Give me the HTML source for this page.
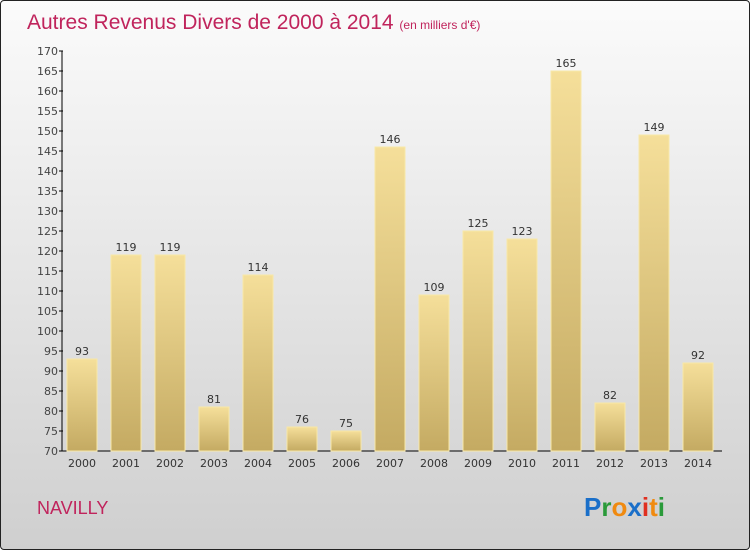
<!DOCTYPE html>
<html><head><meta charset="utf-8"><style>
body{margin:0}
#c{position:relative;width:748px;height:548px;border:1px solid #222;border-radius:4px;background:linear-gradient(#fbfbfb,#cfcfcf);overflow:hidden;font-family:"DejaVu Sans","Liberation Sans",sans-serif}
</style></head><body>
<div id="c">
<svg width="748" height="548">
<defs><linearGradient id="bg" x1="0" y1="0" x2="0" y2="1"><stop offset="0" stop-color="#f5df9a"/><stop offset="1" stop-color="#c4aa62"/></linearGradient></defs>
<text x="26" y="28" font-size="21" fill="#c0245c" font-family="Liberation Sans">Autres Revenus Divers de 2000 à 2014 <tspan font-size="12">(en milliers d'€)</tspan></text>
<g id="axes"></g><g id="bars"></g>
<text x="36" y="513" font-size="18" fill="#c0245c" font-family="Liberation Sans">NAVILLY</text>
<text x="583" y="515" font-size="26" font-weight="bold" font-family="Liberation Sans"><tspan fill="#1a6fc9">P</tspan><tspan fill="#2a9a3a">r</tspan><tspan fill="#f08a10">o</tspan><tspan fill="#1a6fc9">x</tspan><tspan fill="#e03020">i</tspan><tspan fill="#f08a10">t</tspan><tspan fill="#2a9a3a">i</tspan></text>
</svg></div>
<script>
const years=["2000","2001","2002","2003","2004","2005","2006","2007","2008","2009","2010","2011","2012","2013","2014"];
const values=[93,119,119,81,114,76,75,146,109,125,123,165,82,149,92];
const yTicks=[70,75,80,85,90,95,100,105,110,115,120,125,130,135,140,145,150,155,160,165,170];
const NS="http://www.w3.org/2000/svg";
const y=v=>450-(v-70)*4, x=i=>81+i*44;
const ax=document.getElementById('axes'),bg=document.getElementById('bars');
function mk(t,a,p){const e=document.createElementNS(NS,t);for(const k in a)e.setAttribute(k,a[k]);p.appendChild(e);return e;}
let l=mk('line',{x1:61,y1:50,x2:61,y2:450,stroke:'#000'},ax);


l=mk('line',{x1:61,y1:450,x2:721,y2:450,stroke:'#000'},ax);


yTicks.forEach(v=>{mk('line',{x1:58,x2:62,y1:y(v),y2:y(v),stroke:'#000'},ax);
const t=mk('text',{x:57,y:y(v)+4,'text-anchor':'end','font-size':11,fill:'#444'},ax);t.textContent=v;

});
values.forEach((v,i)=>{const r=mk('rect',{x:x(i)-15,y:y(v),width:30,height:450-y(v),fill:'url(#bg)',stroke:'#f8e8a8','stroke-width':1},bg);


const t=mk('text',{x:x(i),y:y(v)-4,'text-anchor':'middle','font-size':11,fill:'#333'},bg);t.textContent=v;


const s=mk('text',{x:x(i),y:466,'text-anchor':'middle','font-size':11,fill:'#333'},bg);s.textContent=years[i];

});
</script></body></html>
